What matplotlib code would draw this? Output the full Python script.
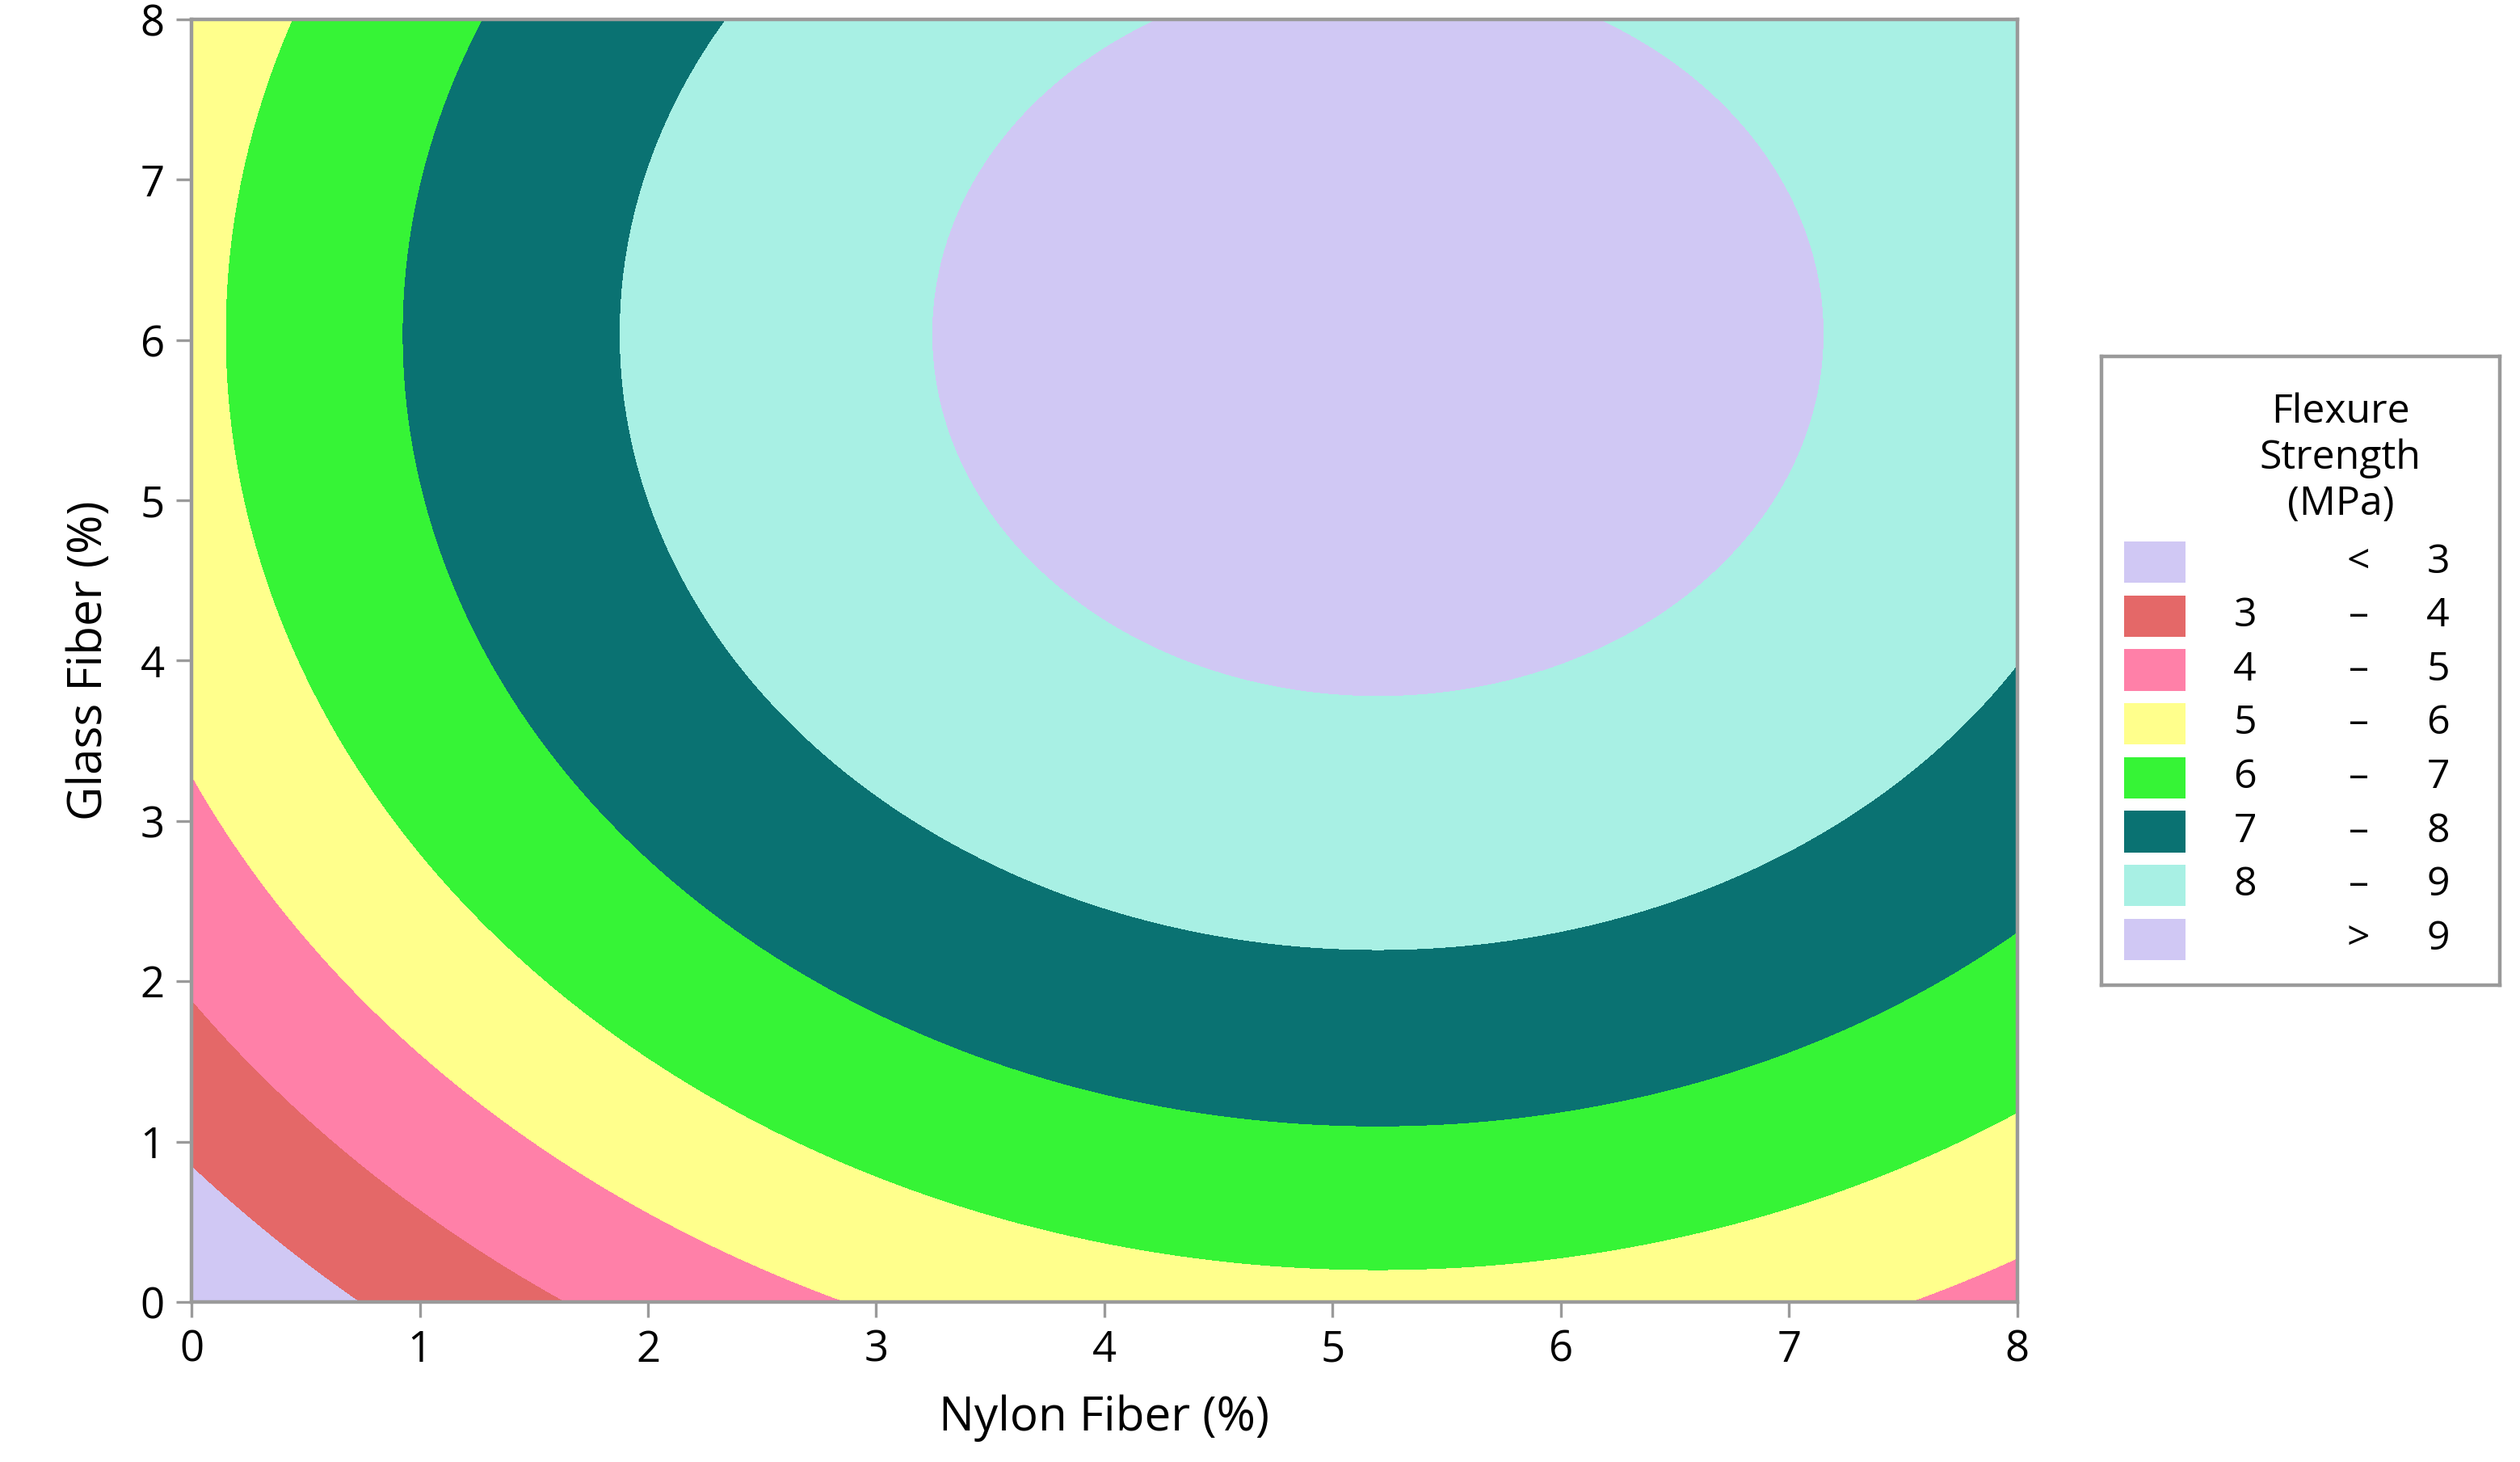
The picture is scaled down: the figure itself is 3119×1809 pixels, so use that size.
import numpy as np
import matplotlib.pyplot as plt
from matplotlib.patches import Rectangle

plt.rcParams['font.family'] = ['Open Sans', 'DejaVu Sans']

# fitted quadratic response surface: b0 + b1*N + b2*G + b11*N^2 + b22*G^2
b0, b1, b2 = 2.01, 1.44, 1.25
b11, b22 = -0.1385, -0.1035

levels = [3, 4, 5, 6, 7, 8, 9]
band_colors = ['#D0C8F4', '#E46868', '#FF80A8', '#FFFF8C', '#36F436',
               '#0A7272', '#A8F0E4', '#D0C8F4']
band_low = ['', '3', '4', '5', '6', '7', '8', '']
band_mid = ['<', '–', '–', '–', '–', '–', '–', '>']
band_high = ['3', '4', '5', '6', '7', '8', '9', '9']

ticks = [0, 1, 2, 3, 4, 5, 6, 7, 8]

nylon = np.linspace(0, 8, 600)
glass = np.linspace(0, 8, 600)
N, G = np.meshgrid(nylon, glass)
Z = b0 + b1 * N + b2 * G + b11 * N**2 + b22 * G**2

fig = plt.figure(figsize=(15.595, 9.045), dpi=200)
ax = fig.add_axes([0.076, 0.1095, 0.7245, 0.8772])
ax.contourf(N, G, Z, levels=levels, colors=band_colors, extend='both',
            antialiased=False)
ax.set_xlim(0, 8)
ax.set_ylim(0, 8)
ax.set_xticks(ticks)
ax.set_yticks(ticks)
for s in ax.spines.values():
    s.set_color('#9a9a9a')
    s.set_linewidth(1.6)
ax.tick_params(colors='#9a9a9a', labelcolor='black', length=7, width=1.2,
               labelsize=19, pad=5)
ax.set_xlabel('Nylon Fiber (%)', fontsize=21, labelpad=10)
ax.set_ylabel('Glass Fiber (%)', fontsize=21, labelpad=12)

# legend box
lg = fig.add_axes([0.834, 0.326, 0.158, 0.430])
lg.set_xlim(0, 1)
lg.set_ylim(1, 0)
lg.set_xticks([])
lg.set_yticks([])
for s in lg.spines.values():
    s.set_color('#9a9a9a')
    s.set_linewidth(1.6)
lg.text(0.60, 0.162, 'Flexure\nStrength\n(MPa)', ha='center', va='center',
        fontsize=18, linespacing=1.2)
row0, dy = 0.327, 0.0857
for i, c in enumerate(band_colors):
    y = row0 + i * dy
    lg.add_patch(Rectangle((0.056, y - 0.033), 0.155, 0.066, color=c, lw=0))
    lg.text(0.36, y, band_low[i], ha='center', va='center', fontsize=18)
    lg.text(0.645, y, band_mid[i], ha='center', va='center', fontsize=18)
    lg.text(0.845, y, band_high[i], ha='center', va='center', fontsize=18)

fig.savefig('out.png', dpi=200)
